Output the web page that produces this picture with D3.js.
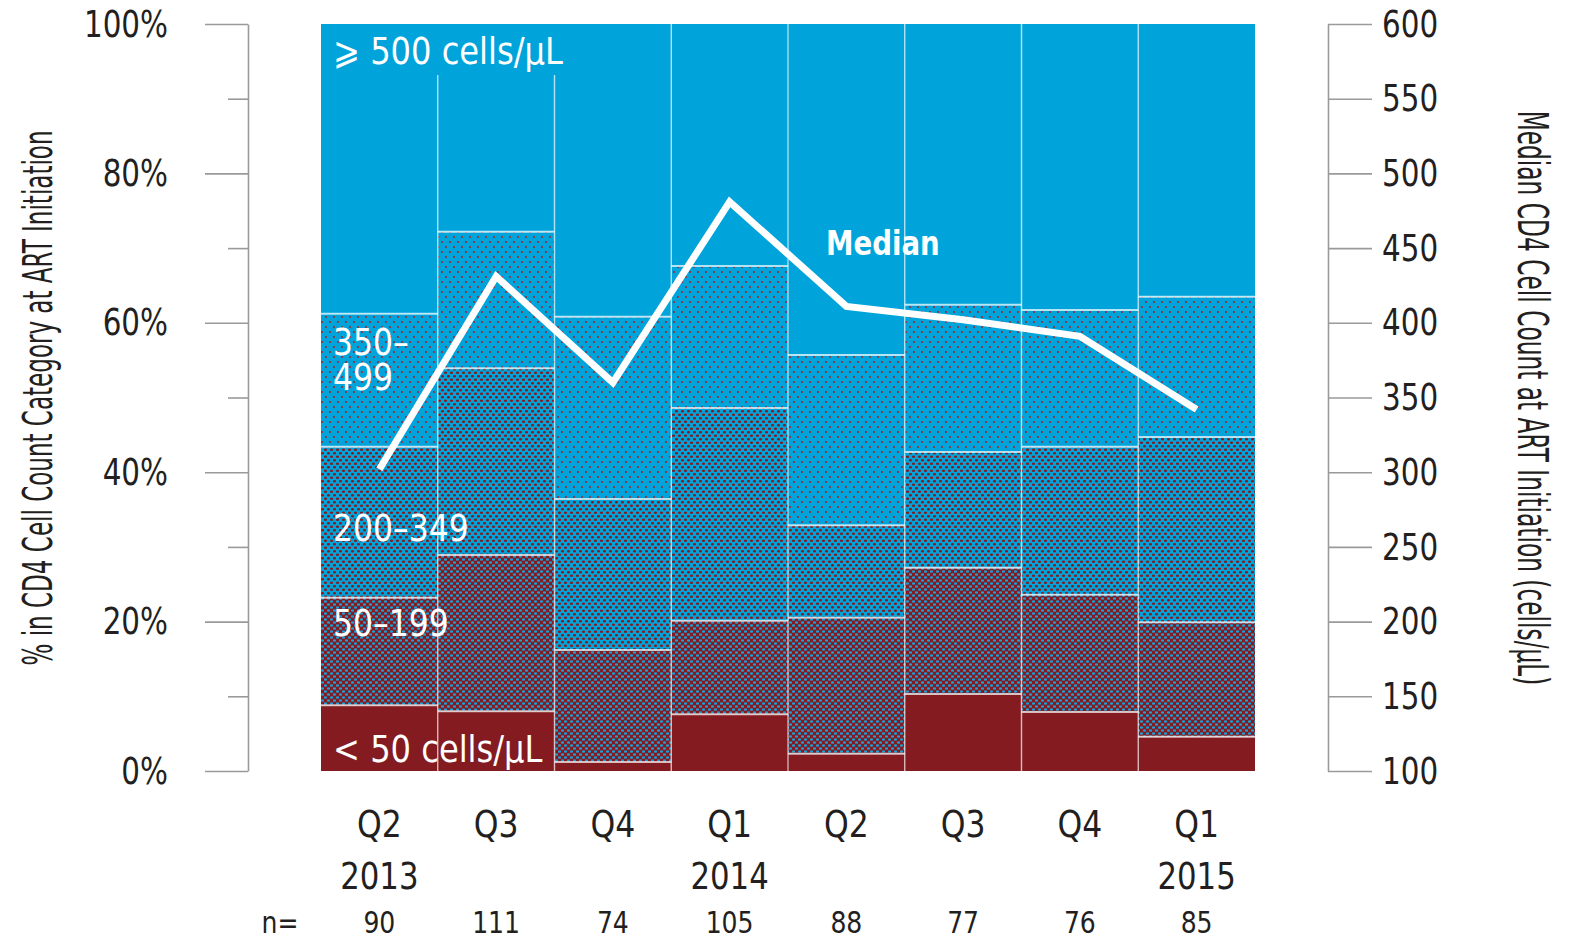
<!DOCTYPE html>
<html>
<head>
<meta charset="utf-8">
<script src="https://cdn.jsdelivr.net/npm/d3@7"></script>
<style>
  body { margin: 0; background: #fff; }
  svg text { font-family: 'Liberation Sans Narrow', 'DejaVu Sans Condensed', sans-serif; }
</style>
</head>
<body>
<svg width="1575" height="943"></svg>
<script>
// quarters and their labels
var quarterIds = ['2013Q2', '2013Q3', '2013Q4', '2014Q1', '2014Q2', '2014Q3', '2014Q4', '2015Q1'];
var quarterLabels = ['Q2', 'Q3', 'Q4', 'Q1', 'Q2', 'Q3', 'Q4', 'Q1'];
var yearLabels = ['2013', '', '', '2014', '', '', '', '2015'];
var nValues = [90, 111, 74, 105, 88, 77, 76, 85];

// % in each CD4 category (bottom to top)
var lt50 = [8.8, 8.0, 1.2, 7.6, 2.3, 10.3, 7.9, 4.6];
var c50to199 = [14.4, 20.9, 15.0, 12.5, 18.2, 16.9, 15.7, 15.3];
var c200to349 = [20.2, 25.0, 20.2, 28.5, 12.4, 15.5, 19.8, 24.8];
var c350to499 = [17.8, 18.3, 24.4, 19.0, 22.8, 19.7, 18.3, 18.8];
var ge500 = [38.8, 27.8, 39.2, 32.4, 44.3, 37.6, 38.3, 36.5];

// median CD4 count (right axis)
var medians = [302, 431, 360, 481, 411, 402, 391, 342];

var leftTicks = [0, 20, 40, 60, 80, 100];
var leftMinorTicks = [10, 30, 50, 70, 90];
var rightTicks = [100, 150, 200, 250, 300, 350, 400, 450, 500, 550, 600];

var keys = ['lt50', 'c50', 'c200', 'c350', 'ge500'];
var fills = {lt50: '#831b21', c50: 'url(#p50)', c200: 'url(#p200)', c350: 'url(#p350)', ge500: '#00a4da'};

var blue = '#00a4da';
var red = '#86191f';
var ink = '#231f20';

var rows = quarterIds.map(function(q, i) {
    return {id: q, lt50: lt50[i], c50: c50to199[i], c200: c200to349[i], c350: c350to499[i], ge500: ge500[i]};
});

var svg = d3.select('svg');

// squeeze a text horizontally, the fonts here are wider than the original
function condense(sel, f) {
    sel.each(function() {
        var len = this.getComputedTextLength();
        if (len > 0) {
            d3.select(this)
                .attr('textLength', len * f)
                .attr('lengthAdjust', 'spacingAndGlyphs');
        }
    });
}

// rotated title squeezed to a given length
function axisTitle(tx, ty, angle, size, target, label) {
    var t = svg.append('text')
        .attr('text-anchor', 'middle')
        .attr('fill', ink)
        .attr('font-size', size)
        .text(label);
    var k = target / t.node().getComputedTextLength();
    t.attr('transform', 'translate(' + tx + ',' + ty + ') rotate(' + angle + ') scale(' + k + ',1)');
    return t;
}

// patterns
var defs = svg.append('defs');
function dotPattern(id, w, h, dots, bg, fg) {
    var p = defs.append('pattern')
        .attr('id', id)
        .attr('patternUnits', 'userSpaceOnUse')
        .attr('width', w)
        .attr('height', h);
    p.append('rect').attr('width', w).attr('height', h).attr('fill', bg);
    dots.forEach(function(d) {
        p.append('ellipse')
            .attr('cx', d[0]).attr('cy', d[1])
            .attr('rx', d[2]).attr('ry', d[3])
            .attr('fill', fg);
    });
}
dotPattern('p350', 8, 10, [[2, 2, 1.1, 0.9], [6, 7, 1.1, 0.9]], blue, '#9a2a3a');
dotPattern('p200', 6, 7, [[1.5, 1.75, 1.6, 1.2], [4.5, 5.25, 1.6, 1.2]], blue, red);
dotPattern('p50', 6, 6, [[1.5, 1.5, 1.7, 1.3], [4.5, 4.5, 1.7, 1.3]], red, '#1a9fd4');

var x = d3.scaleBand()
    .domain(quarterIds)
    .range([321, 1255])
    .padding(0);

var y = d3.scaleLinear()
    .domain([0, 100])
    .range([771, 24]);

var yRight = d3.scaleLinear()
    .domain([100, 600])
    .range([771, 24]);

var stacked = d3.stack().keys(keys)(rows);

var bars = svg.append('g').classed('bars', true);
stacked.forEach(function(layer) {
    bars.append('g')
        .selectAll('rect')
        .data(layer)
        .enter()
        .append('rect')
            .attr('x', d => x(d.data.id))
            .attr('y', d => y(d[1]))
            .attr('width', x.bandwidth())
            .attr('height', d => y(d[0]) - y(d[1]))
            .attr('fill', fills[layer.key]);
});

// segment boundaries
stacked.slice(0, 4).forEach(function(layer) {
    bars.append('g')
        .selectAll('line')
        .data(layer)
        .enter()
        .append('line')
            .attr('x1', d => x(d.data.id))
            .attr('x2', d => x(d.data.id) + x.bandwidth())
            .attr('y1', d => y(d[1]))
            .attr('y2', d => y(d[1]))
            .attr('stroke', 'rgba(255,255,255,0.7)')
            .attr('stroke-width', 2);
});

// bar separators
bars.append('g')
    .selectAll('line')
    .data(quarterIds.slice(1))
    .enter()
    .append('line')
        .attr('x1', d => x(d))
        .attr('x2', d => x(d))
        .attr('y1', y(100))
        .attr('y2', y(0))
        .attr('stroke', 'rgba(255,255,255,0.6)')
        .attr('stroke-width', 1.5);

// left axis
svg.append('g')
    .attr('transform', 'translate(248,0)')
    .call(d3.axisLeft(y).tickValues(leftTicks).tickSize(43).tickSizeOuter(0).tickPadding(37).tickFormat(d => d + '%'));
svg.append('g')
    .attr('transform', 'translate(248,0)')
    .call(d3.axisLeft(y).tickValues(leftMinorTicks).tickSize(20).tickFormat(''))
    .select('.domain').remove();

// right axis
svg.append('g')
    .attr('transform', 'translate(1328,0)')
    .call(d3.axisRight(yRight).tickValues(rightTicks).tickSize(44).tickSizeOuter(0).tickPadding(10));

svg.selectAll('.domain, .tick line')
    .attr('stroke', '#9a9a9a')
    .attr('stroke-width', 1.6);
svg.selectAll('.tick text')
    .attr('fill', ink)
    .attr('font-size', 38)
    .style('font-family', "'Liberation Sans Narrow', 'DejaVu Sans Condensed', sans-serif")
    .call(condense, 0.86);

// axis titles
axisTitle(52, 398, -90, 40, 535, '% in CD4 Cell Count Category at ART Initiation');
axisTitle(1518, 398, 90, 42, 575, 'Median CD4 Cell Count at ART Initiation (cells/μL)');

// median line
var line = d3.line()
    .x((d, i) => x(quarterIds[i]) + x.bandwidth() / 2)
    .y(d => yRight(d));
svg.append('path')
    .datum(medians)
    .attr('d', line)
    .attr('fill', 'none')
    .attr('stroke', '#fff')
    .attr('stroke-width', 7);

// in-bar labels
var labels = svg.append('g')
    .attr('fill', '#fff')
    .attr('font-size', 38);

var topLabel = labels.append('text')
    .attr('x', 333)
    .attr('y', 64)
    .text('⩾ 500 cells/μL')
    .call(condense, 0.94);
var bb = topLabel.node().getBBox();
labels.insert('rect', 'text')
    .attr('x', x(quarterIds[0]) + 2)
    .attr('y', y(100))
    .attr('width', bb.x + bb.width - x(quarterIds[0]) + 2)
    .attr('height', bb.y + bb.height - y(100) + 2)
    .attr('fill', blue);

var twoLine = labels.append('text').attr('x', 333).attr('y', 355);
twoLine.append('tspan').attr('x', 333).text('350–');
twoLine.append('tspan').attr('x', 333).attr('dy', 35).text('499');
twoLine.selectAll('tspan').call(condense, 0.92);
labels.append('text').attr('x', 333).attr('y', 541).text('200–349').call(condense, 0.92);
labels.append('text').attr('x', 333).attr('y', 636).text('50–199').call(condense, 0.92);
labels.append('text').attr('x', 333).attr('y', 762).text('< 50 cells/μL').call(condense, 0.94);
labels.append('text')
    .attr('x', 826)
    .attr('y', 255)
    .attr('font-size', 33)
    .attr('font-weight', 'bold')
    .style('font-family', "'DejaVu Sans Condensed', sans-serif")
    .text('Median')
    .call(condense, 0.93);

// category labels under bars
var bottom = svg.append('g').attr('fill', ink).attr('text-anchor', 'middle');
bottom.selectAll('.q')
    .data(quarterIds)
    .enter()
    .append('text')
        .attr('x', d => x(d) + x.bandwidth() / 2)
        .attr('y', 837)
        .attr('font-size', 38)
        .text((d, i) => quarterLabels[i])
        .call(condense, 0.92);
bottom.selectAll('.yr')
    .data(quarterIds)
    .enter()
    .append('text')
        .attr('x', d => x(d) + x.bandwidth() / 2)
        .attr('y', 889)
        .attr('font-size', 38)
        .text((d, i) => yearLabels[i])
        .call(condense, 0.9);
bottom.selectAll('.n')
    .data(quarterIds)
    .enter()
    .append('text')
        .attr('x', d => x(d) + x.bandwidth() / 2)
        .attr('y', 933)
        .attr('font-size', 31)
        .text((d, i) => nValues[i])
        .call(condense, 0.9);
bottom.append('text')
    .attr('x', 280)
    .attr('y', 933)
    .attr('font-size', 31)
    .text('n=')
    .call(condense, 0.9);
</script>
</body>
</html>
